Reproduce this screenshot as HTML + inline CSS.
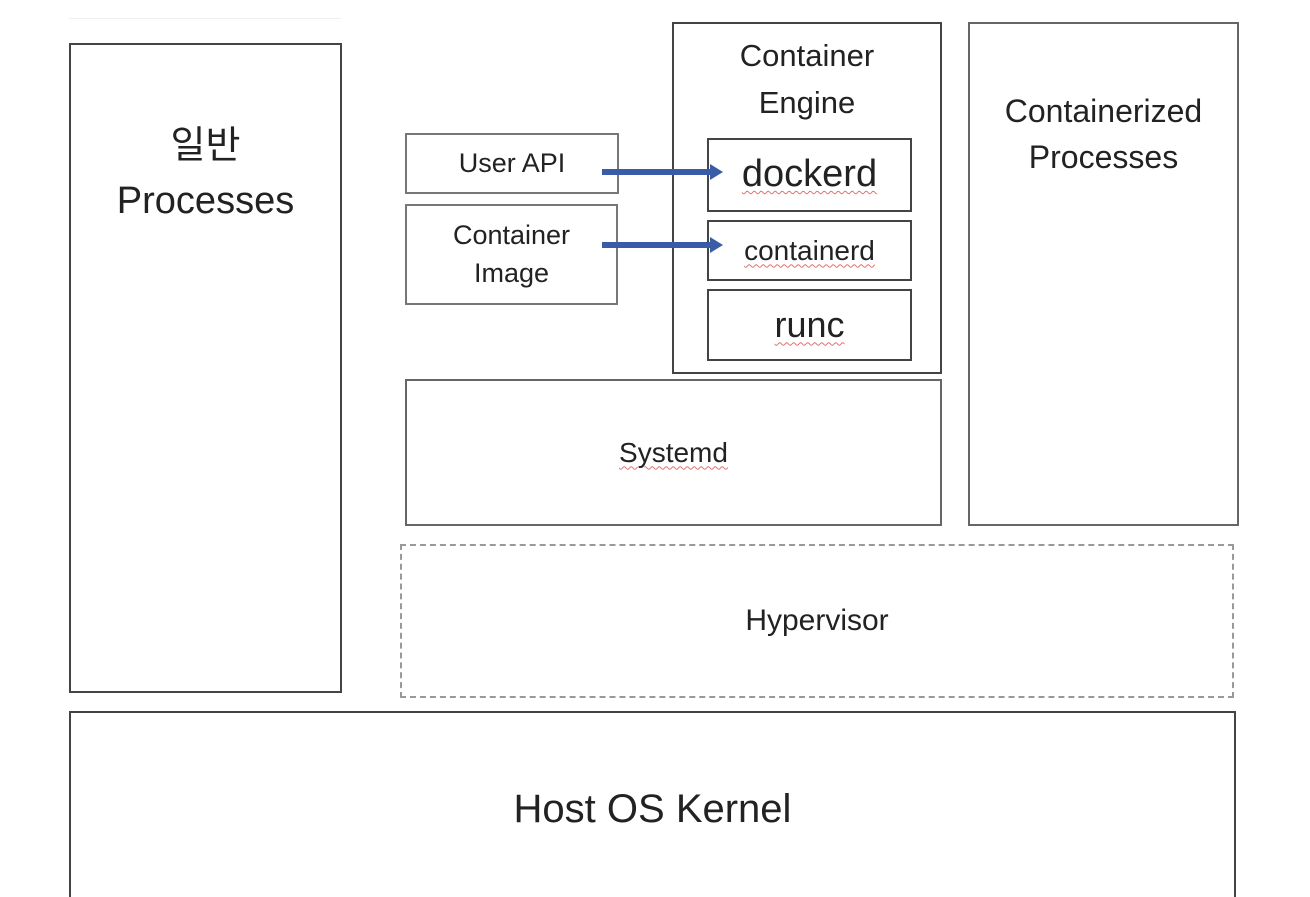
<!DOCTYPE html>
<html><head><meta charset="utf-8"><style>
html,body{margin:0;width:1310px;height:897px;overflow:hidden}
body{background:#fff;position:relative;font-family:"Liberation Sans","Noto Sans CJK KR",sans-serif;color:#222}
.b{position:absolute;border:2px solid #444;box-sizing:border-box;display:flex;align-items:center;justify-content:center;text-align:center;line-height:1.2}
.u{text-decoration:underline wavy #e07070;text-decoration-thickness:1px;text-underline-offset:4px}
</style></head><body>
<div style="position:absolute;left:69px;top:18px;width:272px;height:1px;background:#eee"></div>
<div class="b" style="left:69px;top:43px;width:273px;height:650px;align-items:flex-start;padding-top:74px;font-size:38px;line-height:1.45">일반<br>Processes</div>
<div class="b" style="left:405px;top:133px;width:214px;height:61px;font-size:27px;border-color:#777">User API</div>
<div class="b" style="left:405px;top:204px;width:213px;height:101px;font-size:27px;border-color:#777;line-height:1.4">Container<br>Image</div>
<div class="b" style="left:672px;top:22px;width:270px;height:352px;align-items:flex-start;padding-top:9px;font-size:31px;line-height:1.5">Container<br>Engine</div>
<div class="b" style="left:707px;top:138px;width:205px;height:74px;font-size:38px"><span class="u">dockerd</span></div>
<div class="b" style="left:707px;top:220px;width:205px;height:61px;font-size:28px"><span class="u">containerd</span></div>
<div class="b" style="left:707px;top:289px;width:205px;height:72px;font-size:36px"><span class="u">runc</span></div>
<div class="b" style="left:405px;top:379px;width:537px;height:147px;font-size:28px;border-color:#666"><span class="u">Systemd</span></div>
<div class="b" style="left:968px;top:22px;width:271px;height:504px;align-items:flex-start;padding-top:64px;font-size:32px;line-height:1.45;border-color:#666">Containerized<br>Processes</div>
<div class="b" style="left:400px;top:544px;width:834px;height:154px;font-size:30px;border:2px dashed #999">Hypervisor</div>
<div class="b" style="left:69px;top:711px;width:1167px;height:186px;font-size:40px;align-items:flex-start;padding-top:72px;border-bottom:none">Host OS Kernel</div>
<svg style="position:absolute;left:0;top:0" width="1310" height="897">
<g fill="#3a5ca8" stroke="#3a5ca8">
<line x1="602" y1="172" x2="712" y2="172" stroke-width="6"/><polygon points="710,164 723,172 710,180" stroke="none"/>
<line x1="602" y1="245" x2="712" y2="245" stroke-width="6"/><polygon points="710,237 723,245 710,253" stroke="none"/>
</g></svg>
</body></html>
